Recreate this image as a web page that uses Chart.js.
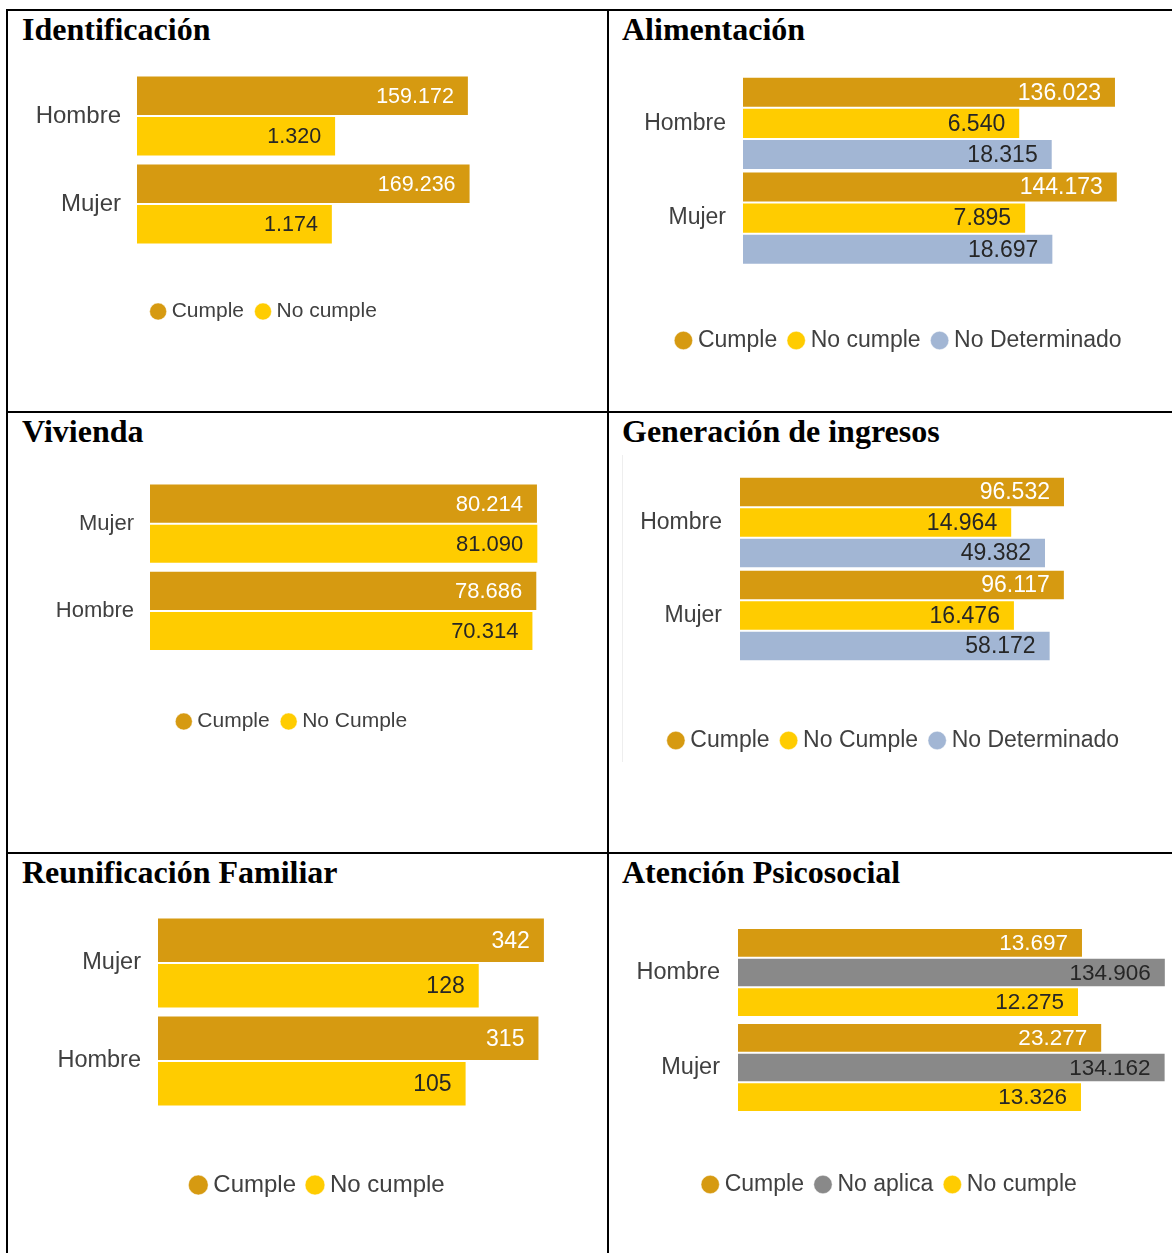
<!DOCTYPE html>
<html>
<head>
<meta charset="utf-8">
<script src="https://cdn.jsdelivr.net/npm/chart.js@4.4.1/dist/chart.umd.min.js"></script>
<style>
  body { margin: 0; background: #fff; width: 1172px; height: 1253px; overflow: hidden; position: relative; }
  .line { position: absolute; background: #000; }
  .titulo { position: absolute; font-family: "Liberation Serif", "Times New Roman", serif; font-weight: bold; font-size: 32px; line-height: 32px; color: #000; white-space: nowrap; }
  canvas { position: absolute; }
</style>
</head>
<body>
<!-- table grid -->
<div class="line" style="left:6px; top:9px; width:1166px; height:2px"></div>
<div class="line" style="left:6px; top:9px; width:2px; height:1244px"></div>
<div class="line" style="left:607px; top:9px; width:2px; height:1244px"></div>
<div class="line" style="left:6px; top:411px; width:1166px; height:2px"></div>
<div class="line" style="left:6px; top:852px; width:1166px; height:2px"></div>
<div style="position:absolute; left:622px; top:455px; width:1px; height:307px; background:#eeeeee"></div>

<div class="titulo" style="left:22px; top:13px">Identificación</div>
<div class="titulo" style="left:622px; top:13px">Alimentación</div>
<div class="titulo" style="left:22px; top:415px">Vivienda</div>
<div class="titulo" style="left:622px; top:415px">Generación de ingresos</div>
<div class="titulo" style="left:22px; top:856px">Reunificación Familiar</div>
<div class="titulo" style="left:622px; top:856px">Atención Psicosocial</div>

<canvas id="chartId" width="488" height="300" style="left:22px; top:32px"></canvas>
<canvas id="chartAli" width="522" height="326" style="left:640px; top:36px"></canvas>
<canvas id="chartViv" width="544" height="302" style="left:22px; top:440px"></canvas>
<canvas id="chartGen" width="532" height="326" style="left:630px; top:436px"></canvas>
<canvas id="chartReu" width="560" height="333" style="left:40px; top:874px"></canvas>
<canvas id="chartPsi" width="556" height="321" style="left:614px; top:885px"></canvas>

<script>
// Identificación
const idCategorias = ["Hombre", "Mujer"]
const idCumple = [159172, 169236]
const idNoCumple = [1320, 1174]

// Alimentación
const aliCategorias = ["Hombre", "Mujer"]
const aliCumple = [136023, 144173]
const aliNoCumple = [6540, 7895]
const aliNoDeterminado = [18315, 18697]

// Vivienda
const vivCategorias = ["Mujer", "Hombre"]
const vivCumple = [80214, 78686]
const vivNoCumple = [81090, 70314]

// Generación de ingresos
const genCategorias = ["Hombre", "Mujer"]
const genCumple = [96532, 96117]
const genNoCumple = [14964, 16476]
const genNoDeterminado = [49382, 58172]

// Reunificación Familiar
const reuCategorias = ["Mujer", "Hombre"]
const reuCumple = [342, 315]
const reuNoCumple = [128, 105]

// Atención Psicosocial
const psiCategorias = ["Hombre", "Mujer"]
const psiCumple = [13697, 23277]
const psiNoAplica = [134906, 134162]
const psiNoCumple = [12275, 13326]

const COLOR_CUMPLE = "#d69a11"
const COLOR_NO_CUMPLE = "#ffcc00"
const COLOR_NO_DET = "#a2b6d4"
const COLOR_NO_APLICA = "#898989"
const TEXT_DARK = "#404040"
const FONT = "'Liberation Sans', Arial, sans-serif"

Chart.defaults.font.family = FONT
Chart.defaults.color = TEXT_DARK

// 159172 -> "159.172"
function formatMiles(v) {
  return String(v).replace(/\B(?=(\d{3})+(?!\d))/g, ".")
}

// draws the value at the end of every bar, inside it
const valueLabels = {
  id: "valueLabels",
  afterDatasetsDraw(chart, args, opts) {
    const ctx = chart.ctx
    ctx.save()
    ctx.font = opts.size + "px " + FONT
    ctx.textAlign = "right"
    ctx.textBaseline = "middle"
    chart.data.datasets.forEach(function(ds, i) {
      const meta = chart.getDatasetMeta(i)
      ctx.fillStyle = ds.labelColor
      meta.data.forEach(function(bar, j) {
        ctx.fillText(formatMiles(ds.data[j]), bar.x - 15, bar.y + 1)
      })
    })
    ctx.restore()
  }
}

function serie(label, data, color, labelColor) {
  return {
    label: label,
    data: data,
    backgroundColor: color,
    borderColor: "rgba(255,255,255,0.45)",
    borderWidth: 1,
    labelColor: labelColor
  }
}

function makeChart(canvasId, categorias, series, cfg) {
  return new Chart(document.getElementById(canvasId), {
    type: "bar",
    data: { labels: categorias, datasets: series },
    plugins: [valueLabels],
    options: {
      indexAxis: "y",
      responsive: false,
      animation: false,
      devicePixelRatio: 1,
      categoryPercentage: cfg.catPct,
      barPercentage: 1,
      layout: { padding: { top: 40, bottom: 0, left: 0, right: 0 } },
      scales: {
        x: {
          type: "logarithmic",
          min: 1,
          max: cfg.max,
          grid: { display: false, drawTicks: false },
          border: { display: false },
          ticks: { display: false },
          afterFit: function(s) { s.height = cfg.gap }
        },
        y: {
          grid: { display: false, drawTicks: false },
          border: { display: false },
          ticks: { color: TEXT_DARK, padding: cfg.tickPad, font: { size: cfg.tickSize } },
          afterFit: function(s) { s.width = cfg.axisWidth }
        }
      },
      plugins: {
        legend: {
          position: "bottom",
          labels: {
            usePointStyle: true,
            pointStyle: "circle",
            boxWidth: 6,
            boxHeight: Math.round(cfg.legendSize * 0.58),
            padding: 16,
            color: TEXT_DARK,
            font: { size: cfg.legendSize }
          }
        },
        tooltip: { enabled: false },
        valueLabels: { size: cfg.valueSize }
      }
    }
  })
}

makeChart("chartId", idCategorias, [
  serie("Cumple", idCumple, COLOR_CUMPLE, "#ffffff"),
  serie("No cumple", idNoCumple, COLOR_NO_CUMPLE, "#262626")
], { catPct: 0.92, max: 7.02e5, gap: 37, axisWidth: 115, tickPad: 16, tickSize: 24, valueSize: 21.5, legendSize: 21 })

makeChart("chartAli", aliCategorias, [
  serie("Cumple", aliCumple, COLOR_CUMPLE, "#ffffff"),
  serie("No cumple", aliNoCumple, COLOR_NO_CUMPLE, "#262626"),
  serie("No Determinado", aliNoDeterminado, COLOR_NO_DET, "#262626")
], { catPct: 0.985, max: 5.85e5, gap: 47.5, axisWidth: 103, tickPad: 17, tickSize: 23, valueSize: 23, legendSize: 23 })

makeChart("chartViv", vivCategorias, [
  serie("Cumple", vivCumple, COLOR_CUMPLE, "#ffffff"),
  serie("No Cumple", vivNoCumple, COLOR_NO_CUMPLE, "#262626")
], { catPct: 0.92, max: 1.815e5, gap: 40.5, axisWidth: 128, tickPad: 16, tickSize: 22, valueSize: 22, legendSize: 21 })

makeChart("chartGen", genCategorias, [
  serie("Cumple", genCumple, COLOR_CUMPLE, "#ffffff"),
  serie("No Cumple", genNoCumple, COLOR_NO_CUMPLE, "#262626"),
  serie("No Determinado", genNoDeterminado, COLOR_NO_DET, "#262626")
], { catPct: 0.984, max: 2.97e6, gap: 51, axisWidth: 110, tickPad: 18, tickSize: 23, valueSize: 23, legendSize: 23 })

makeChart("chartReu", reuCategorias, [
  serie("Cumple", reuCumple, COLOR_CUMPLE, "#ffffff"),
  serie("No cumple", reuNoCumple, COLOR_NO_CUMPLE, "#262626")
], { catPct: 0.93, max: 785, gap: 47, axisWidth: 118, tickPad: 17, tickSize: 23.5, valueSize: 23, legendSize: 24 })

makeChart("chartPsi", psiCategorias, [
  serie("Cumple", psiCumple, COLOR_CUMPLE, "#ffffff"),
  serie("No aplica", psiNoAplica, COLOR_NO_APLICA, "#262626"),
  serie("No cumple", psiNoCumple, COLOR_NO_CUMPLE, "#262626")
], { catPct: 0.937, max: 1.514e5, gap: 42, axisWidth: 124, tickPad: 18, tickSize: 23.5, valueSize: 22.5, legendSize: 23 })
</script>
</body>
</html>
